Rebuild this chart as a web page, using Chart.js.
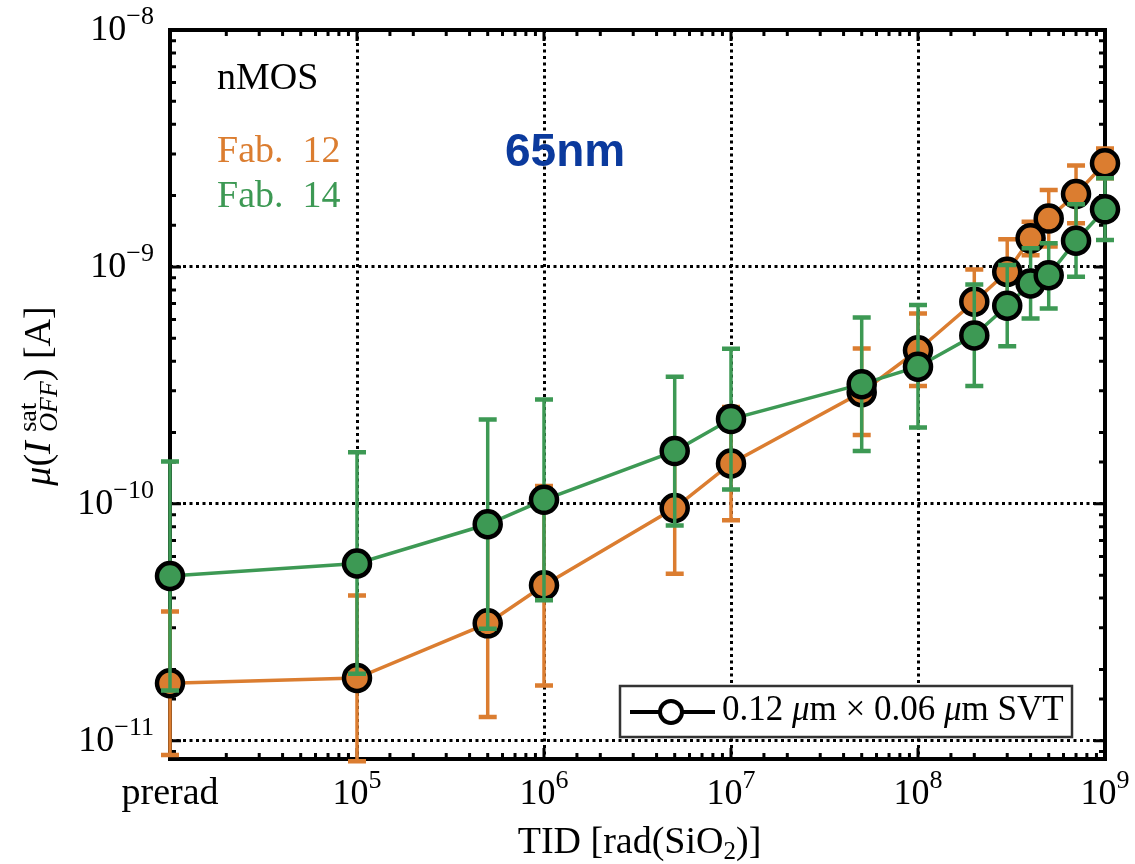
<!DOCTYPE html>
<html>
<head>
<meta charset="utf-8">
<script src="https://cdn.jsdelivr.net/npm/chart.js@4"></script>
<style>
  body { margin: 0; background: #fff; }
</style>
</head>
<body>
<canvas id="chart" width="1135" height="864"></canvas>
<script>
// TID steps (prerad is plotted at 1e4)
const tidValues = [1e4, 1e5, 5e5, 1e6, 5e6, 1e7, 5e7, 1e8, 2e8, 3e8, 4e8, 5e8, 7e8, 1e9];

// Fab. 12 (orange)
const fab12Mean = [1.75e-11, 1.84e-11, 3.13e-11, 4.53e-11, 9.6e-11, 1.48e-10, 2.96e-10, 4.45e-10, 7.13e-10, 9.53e-10, 1.32e-9, 1.6e-9, 2.03e-9, 2.74e-9];
const fab12Low = [8.7e-12, 8.2e-12, 1.26e-11, 1.71e-11, 5.07e-11, 8.53e-11, 1.95e-10, 3.14e-10, 5.21e-10, 6.95e-10, 1.12e-9, 1.22e-9, 1.53e-9, 2.37e-9];
const fab12High = [3.51e-11, 4.1e-11, 7.8e-11, 1.19e-10, 1.82e-10, 2.56e-10, 4.53e-10, 6.36e-10, 9.75e-10, 1.31e-9, 1.55e-9, 2.11e-9, 2.68e-9, 3.16e-9];

// Fab. 14 (green)
const fab14Mean = [4.96e-11, 5.6e-11, 8.2e-11, 1.04e-10, 1.67e-10, 2.28e-10, 3.2e-10, 3.79e-10, 5.14e-10, 6.86e-10, 8.51e-10, 9.23e-10, 1.29e-9, 1.75e-9];
const fab14Low = [1.63e-11, 1.92e-11, 2.97e-11, 3.92e-11, 8.1e-11, 1.15e-10, 1.67e-10, 2.1e-10, 3.14e-10, 4.63e-10, 6.06e-10, 6.68e-10, 9.08e-10, 1.3e-9];
const fab14High = [1.51e-10, 1.65e-10, 2.27e-10, 2.76e-10, 3.44e-10, 4.51e-10, 6.12e-10, 6.9e-10, 8.43e-10, 1.02e-9, 1.2e-9, 1.26e-9, 1.84e-9, 2.37e-9];

// tick labels
const xTickValues = [1e4, 1e5, 1e6, 1e7, 1e8, 1e9];
const xTickLabels = ['prerad', '10^5', '10^6', '10^7', '10^8', '10^9'];
const yTickValues = [1e-8, 1e-9, 1e-10, 1e-11];
const yTickLabels = ['10^\u22128', '10^\u22129', '10^\u221210', '10^\u221211'];

const ORANGE = '#db7d30';
const GREEN = '#3d9954';
const SERIF = '"Liberation Serif", "DejaVu Serif", serif';

function pts(xs, ys) {
    return xs.map((x, i) => ({x: x, y: ys[i]}));
}

function isMajor(v) {
    const l = Math.log10(v);
    return Math.abs(l - Math.round(l)) < 1e-6;
}

// draw a row of text pieces; each piece: {t, size, italic, dy, stack}
function drawRich(ctx, parts, x, y, align, base) {
    base = base || 36;
    const fontOf = p => (p.italic ? 'italic ' : '') + (p.size || base) + 'px ' + SERIF;
    let total = 0;
    const widths = parts.map(p => {
        ctx.font = fontOf(p);
        let w = ctx.measureText(p.t).width;
        if (p.stack) {
            ctx.font = fontOf(p.stack);
            w = Math.max(w, ctx.measureText(p.stack.t).width);
        }
        total += w;
        return w;
    });
    let cx = x;
    if (align === 'center') cx = x - total / 2;
    if (align === 'right') cx = x - total;
    ctx.textAlign = 'left';
    ctx.textBaseline = 'alphabetic';
    parts.forEach((p, i) => {
        ctx.font = fontOf(p);
        ctx.fillText(p.t, cx, y + (p.dy || 0));
        if (p.stack) {
            ctx.font = fontOf(p.stack);
            ctx.fillText(p.stack.t, cx, y + (p.stack.dy || 0));
        }
        cx += widths[i];
    });
}

function powerParts(label) {
    if (label.indexOf('^') < 0) return [{t: label, size: 38}];
    const s = label.split('^');
    return [{t: s[0]}, {t: s[1], size: 26, dy: -16}];
}

const decor = {
    id: 'decor',
    beforeDatasetsDraw(chart) {
        const ctx = chart.ctx;
        const a = chart.chartArea;
        const xs = chart.scales.x, ys = chart.scales.y;
        ctx.save();
        ctx.strokeStyle = '#000';
        ctx.lineWidth = 3;
        xs.ticks.forEach(t => {
            const px = xs.getPixelForValue(t.value);
            if (px < a.left - 1 || px > a.right + 1) return;
            const len = isMajor(t.value) ? 11 : 6;
            ctx.beginPath();
            ctx.moveTo(px, a.bottom); ctx.lineTo(px, a.bottom - len);
            ctx.moveTo(px, a.top); ctx.lineTo(px, a.top + len);
            ctx.stroke();
        });
        ys.ticks.forEach(t => {
            const py = ys.getPixelForValue(t.value);
            if (py < a.top - 1 || py > a.bottom + 1) return;
            const len = isMajor(t.value) ? 11 : 6;
            ctx.beginPath();
            ctx.moveTo(a.left, py); ctx.lineTo(a.left + len, py);
            ctx.moveTo(a.right, py); ctx.lineTo(a.right - len, py);
            ctx.stroke();
        });
        ctx.lineWidth = 4;
        ctx.strokeRect(a.left, a.top, a.right - a.left, a.bottom - a.top);
        ctx.restore();
    },
    beforeDatasetDraw(chart, args) {
        const ds = chart.data.datasets[args.index];
        const ctx = chart.ctx;
        const xs = chart.scales.x, ys = chart.scales.y;
        ctx.save();
        ctx.strokeStyle = ds.borderColor;
        ds.data.forEach((p, i) => {
            const px = xs.getPixelForValue(p.x);
            const top = ys.getPixelForValue(ds.errHigh[i]);
            const bot = ys.getPixelForValue(ds.errLow[i]);
            ctx.lineWidth = 3.5;
            ctx.beginPath();
            ctx.moveTo(px, top); ctx.lineTo(px, bot);
            ctx.stroke();
            ctx.lineWidth = 4.5;
            ctx.beginPath();
            ctx.moveTo(px - 9, top); ctx.lineTo(px + 9, top);
            ctx.moveTo(px - 9, bot); ctx.lineTo(px + 9, bot);
            ctx.stroke();
        });
        ctx.restore();
    },
    afterDraw(chart) {
        const ctx = chart.ctx;
        const a = chart.chartArea;
        const xs = chart.scales.x, ys = chart.scales.y;
        ctx.save();
        ctx.fillStyle = '#000';

        // tick labels
        xTickValues.forEach((v, i) => {
            drawRich(ctx, powerParts(xTickLabels[i]), xs.getPixelForValue(v), 804, 'center');
        });
        yTickValues.forEach((v, i) => {
            drawRich(ctx, powerParts(yTickLabels[i]), 154, ys.getPixelForValue(v) + 10, 'right');
        });

        // x title
        drawRich(ctx, [
            {t: 'TID [rad(SiO'}, {t: '2', size: 25, dy: 6}, {t: ')]'}
        ], (a.left + a.right) / 2 + 2, 853, 'center', 38);

        // y title
        ctx.save();
        ctx.translate(50, 396);
        ctx.rotate(-Math.PI / 2);
        drawRich(ctx, [
            {t: '\u03bc', italic: true}, {t: '('}, {t: 'I ', italic: true},
            {t: 'sat', size: 26, dy: -14, stack: {t: 'OFF', size: 26, italic: true, dy: 7}},
            {t: ') [A]'}
        ], 0, 0, 'center', 38);
        ctx.restore();

        // annotations
        ctx.font = '38px ' + SERIF;
        ctx.textAlign = 'left';
        ctx.fillStyle = '#000';
        ctx.fillText('nMOS', 217, 89);
        ctx.fillStyle = ORANGE;
        ctx.fillText('Fab.  12', 217, 162);
        ctx.fillStyle = GREEN;
        ctx.fillText('Fab.  14', 217, 207);
        ctx.fillStyle = '#0b3a9d';
        ctx.font = 'bold 46px "Liberation Sans", Arial, sans-serif';
        ctx.fillText('65nm', 505, 166);

        // legend
        ctx.fillStyle = '#fff';
        ctx.fillRect(620, 686, 452, 51);
        ctx.strokeStyle = '#333';
        ctx.lineWidth = 2.5;
        ctx.strokeRect(620, 686, 452, 51);
        ctx.strokeStyle = '#000';
        ctx.lineWidth = 4;
        ctx.beginPath();
        ctx.moveTo(630, 712); ctx.lineTo(715, 712);
        ctx.stroke();
        ctx.beginPath();
        ctx.arc(671, 712, 11, 0, Math.PI * 2);
        ctx.fillStyle = '#fff';
        ctx.fill();
        ctx.stroke();
        ctx.fillStyle = '#000';
        drawRich(ctx, [
            {t: '0.12 '}, {t: '\u03bc', italic: true}, {t: 'm \u00d7 0.06 '},
            {t: '\u03bc', italic: true}, {t: 'm SVT'}
        ], 722, 720, 'left', 35);
        ctx.restore();
    }
};

const gridOpts = {
    display: true,
    drawTicks: false,
    lineWidth: 3,
    color: c => (c.tick && isMajor(c.tick.value)) ? '#000' : 'rgba(0,0,0,0)'
};

const seriesStyle = color => ({
    borderColor: color,
    backgroundColor: color,
    pointBackgroundColor: color,
    pointBorderColor: '#000',
    pointBorderWidth: 4.5,
    pointRadius: 13,
    borderWidth: 3.5,
    tension: 0,
    clip: false
});

new Chart(document.getElementById('chart').getContext('2d'), {
    type: 'line',
    data: {
        datasets: [
            Object.assign({
                label: 'Fab. 14',
                data: pts(tidValues, fab14Mean),
                errLow: fab14Low,
                errHigh: fab14High
            }, seriesStyle(GREEN)),
            Object.assign({
                label: 'Fab. 12',
                data: pts(tidValues, fab12Mean),
                errLow: fab12Low,
                errHigh: fab12High
            }, seriesStyle(ORANGE))
        ]
    },
    options: {
        responsive: false,
        animation: false,
        layout: {padding: {top: 30, right: 30, left: 0, bottom: 0}},
        plugins: {legend: {display: false}, tooltip: {enabled: false}},
        scales: {
            x: {
                type: 'logarithmic',
                min: 1e4,
                max: 1e9,
                grid: gridOpts,
                border: {display: false, dash: [3, 3.5]},
                ticks: {display: false},
                afterFit: s => { s.height = 105; }
            },
            y: {
                type: 'logarithmic',
                min: Math.pow(10, -11.077),
                max: 1e-8,
                grid: gridOpts,
                border: {display: false, dash: [3, 3.5]},
                ticks: {display: false},
                afterFit: s => { s.width = 170; }
            }
        }
    },
    plugins: [decor]
});
</script>
</body>
</html>
